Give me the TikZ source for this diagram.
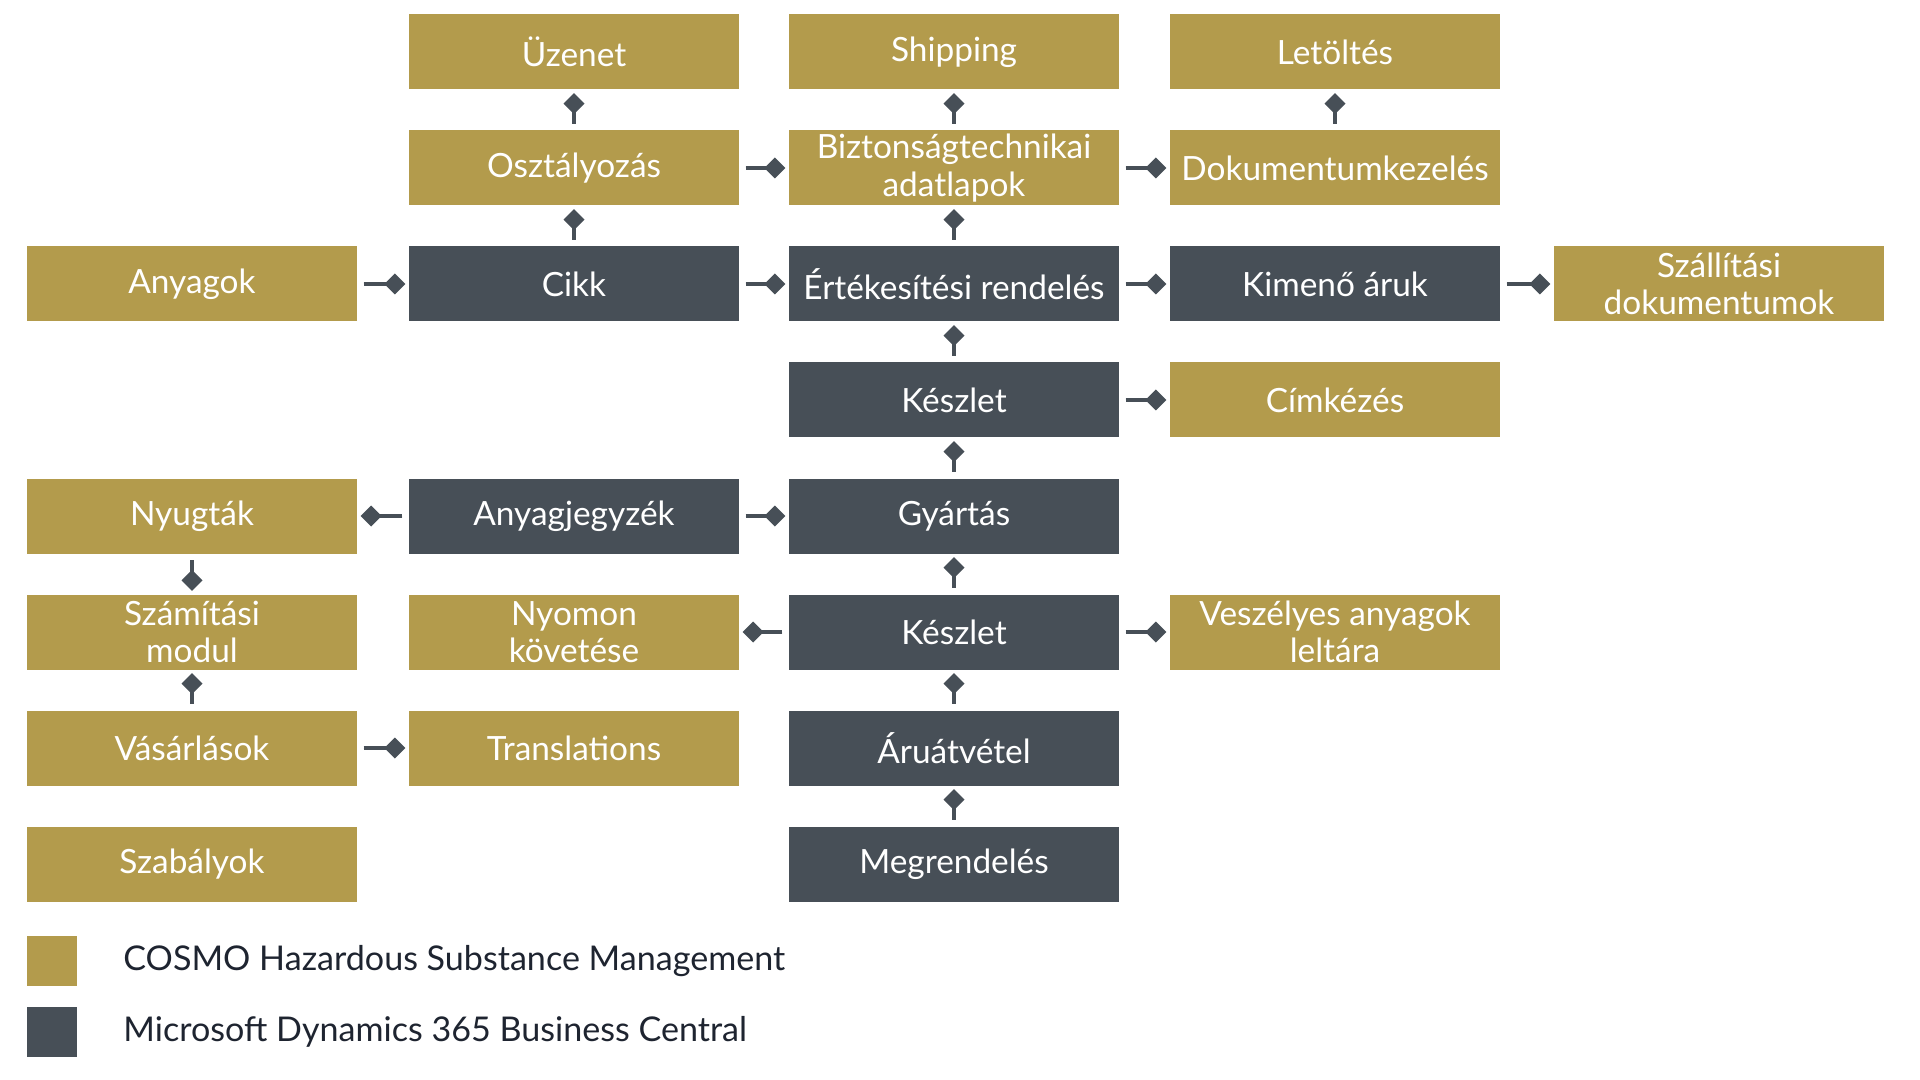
\documentclass[tikz,border=0pt]{standalone}
\usepackage{fontspec}
\setmainfont{Lato}
\usetikzlibrary{arrows.meta}

\definecolor{gold}{HTML}{B39B4C}
\definecolor{slate}{HTML}{474F57}
\definecolor{ink}{HTML}{1E2430}

\tikzset{
  box/.style = {minimum width = 3.3cm, minimum height = 0.75cm, inner sep = 0pt,
    align = center, text = white, font = \fontsize{9.5}{10.6}\selectfont},
  cosmo/.style = {box, fill = gold},
  bc/.style = {box, fill = slate},
  link/.style = {-{Diamond[length = 2.1mm, width = 2.1mm]}, draw = slate, fill = slate,
    line width = 0.9pt, shorten <= 0.6mm, shorten >= 0.3mm},
  key/.style = {minimum size = 0.5cm, inner sep = 0pt},
  keytext/.style = {anchor = west, text = ink, font = \fontsize{9.7}{12}\selectfont}
}

\begin{document}
\begin{tikzpicture}
  \useasboundingbox (0, 0) rectangle (19.2, -10.8);

  % top rows
  \node[cosmo] (uzenet) at (5.74, -0.52) {Üzenet};
  \node[cosmo] (shipping) at (9.54, -0.52) {Shipping};
  \node[cosmo] (letoltes) at (13.35, -0.52) {Letöltés};

  \node[cosmo] (osztaly) at (5.74, -1.68) {Osztályozás};
  \node[cosmo] (bizt) at (9.54, -1.68) {Biztonságtechnikai\\adatlapok};
  \node[cosmo] (dokum) at (13.35, -1.68) {Dokumentumkezelés};

  \node[cosmo] (anyagok) at (1.92, -2.84) {Anyagok};
  \node[bc] (cikk) at (5.74, -2.84) {Cikk};
  \node[bc] (ertek) at (9.54, -2.84) {Értékesítési rendelés};
  \node[bc] (kimeno) at (13.35, -2.84) {Kimenő áruk};
  \node[cosmo] (szallit) at (17.19, -2.84) {Szállítási\\dokumentumok};

  \node[bc] (keszlet) at (9.54, -4.00) {Készlet};
  \node[cosmo] (cimke) at (13.35, -4.00) {Címkézés};

  % lower rows
  \node[cosmo] (nyugta) at (1.92, -5.16) {Nyugták};
  \node[bc] (anyagj) at (5.74, -5.16) {Anyagjegyzék};
  \node[bc] (gyartas) at (9.54, -5.16) {Gyártás};

  \node[cosmo] (szamit) at (1.92, -6.32) {Számítási\\modul};
  \node[cosmo] (nyomon) at (5.74, -6.32) {Nyomon\\követése};
  \node[bc] (keszlet2) at (9.54, -6.32) {Készlet};
  \node[cosmo] (veszely) at (13.35, -6.32) {Veszélyes anyagok\\leltára};

  \node[cosmo] (vasarl) at (1.92, -7.48) {Vásárlások};
  \node[cosmo] (transl) at (5.74, -7.48) {Translations};
  \node[bc] (aruat) at (9.54, -7.48) {Áruátvétel};

  \node[cosmo] (szabaly) at (1.92, -8.64) {Szabályok};
  \node[bc] (megrend) at (9.54, -8.64) {Megrendelés};

  % links, diamond at the target
  \draw[link] (osztaly) -- (uzenet);
  \draw[link] (cikk) -- (osztaly);
  \draw[link] (osztaly) -- (bizt);
  \draw[link] (bizt) -- (shipping);
  \draw[link] (bizt) -- (dokum);
  \draw[link] (dokum) -- (letoltes);
  \draw[link] (ertek) -- (bizt);
  \draw[link] (anyagok) -- (cikk);
  \draw[link] (cikk) -- (ertek);
  \draw[link] (ertek) -- (kimeno);
  \draw[link] (kimeno) -- (szallit);
  \draw[link] (keszlet) -- (ertek);
  \draw[link] (keszlet) -- (cimke);
  \draw[link] (gyartas) -- (keszlet);
  \draw[link] (anyagj) -- (nyugta);
  \draw[link] (anyagj) -- (gyartas);
  \draw[link] (nyugta) -- (szamit);
  \draw[link] (vasarl) -- (szamit);
  \draw[link] (vasarl) -- (transl);
  \draw[link] (keszlet2) -- (gyartas);
  \draw[link] (keszlet2) -- (nyomon);
  \draw[link] (keszlet2) -- (veszely);
  \draw[link] (aruat) -- (keszlet2);
  \draw[link] (megrend) -- (aruat);

  % legend
  \node[key, fill = gold] (keycosmo) at (0.52, -9.61) {};
  \node[key, fill = slate] (keybc) at (0.52, -10.32) {};
  \node[keytext] (txtcosmo) at (1.11, -9.61) {COSMO Hazardous Substance Management};
  \node[keytext] (txtbc) at (1.11, -10.32) {Microsoft Dynamics 365 Business Central};
\end{tikzpicture}
\end{document}
